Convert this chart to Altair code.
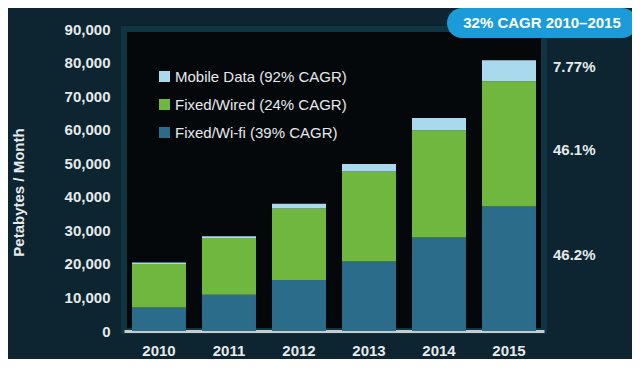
import altair as alt
import pandas as pd

years = ["2010", "2011", "2012", "2013", "2014", "2015"]
series = ["Mobile Data (92% CAGR)", "Fixed/Wired (24% CAGR)", "Fixed/Wi-fi (39% CAGR)"]
colors = ["#a9d9ec", "#70b73f", "#2a6c8a"]
wifi = [7000, 10800, 15200, 20700, 27900, 37100]
wired = [13000, 16900, 21300, 26850, 31900, 37300]
mobile = [400, 500, 1400, 2200, 3700, 6300]
y_ticks = [0, 10000, 20000, 30000, 40000, 50000, 60000, 70000, 80000, 90000]
share_labels = ["7.77%", "46.1%", "46.2%"]
share_y = [78800, 54000, 22700]
badge = ["32% CAGR 2010\u20132015"]

rows = []
for i, yr in enumerate(years):
    rows.append({"year": yr, "series": series[2], "value": wifi[i], "ord": 0})
    rows.append({"year": yr, "series": series[1], "value": wired[i], "ord": 1})
    rows.append({"year": yr, "series": series[0], "value": mobile[i], "ord": 2})
df = pd.DataFrame(rows)

FONT = "Liberation Sans"
TXT = "#e6eaec"
yscale = alt.Scale(domain=[0, 90000], nice=False)
yaxis = alt.Axis(title="Petabytes / Month", values=y_ticks, format=",.0f",
                 grid=False, ticks=False, domain=False, labelPadding=14,
                 labelFontSize=15, labelFontWeight="bold", labelColor=TXT,
                 labelFont=FONT, titleFont=FONT, titleFontSize=15,
                 titleFontWeight="bold", titleColor=TXT,
                 titleX=-106, titleY=163, titleAngle=-90,
                 titleAlign="center", titleBaseline="middle")

bars = alt.Chart(df).mark_bar().encode(
    x=alt.X("year:N", sort=years,
            scale=alt.Scale(paddingInner=0.2286, paddingOuter=0.1143),
            axis=alt.Axis(title=None, labelAngle=0, ticks=False, labelPadding=12,
                          labelFontSize=15, labelFontWeight="bold", labelColor=TXT,
                          labelFont=FONT, domainColor="#c8cacb", domainWidth=3)),
    y=alt.Y("value:Q", stack="zero", scale=yscale, axis=yaxis),
    color=alt.Color("series:N", scale=alt.Scale(domain=series, range=colors),
                    legend=alt.Legend(title=None, orient="none", legendX=33, legendY=40,
                                      symbolType="square", symbolSize=121,
                                      symbolStrokeWidth=0, labelFontSize=15,
                                      labelFont=FONT, labelColor=TXT, labelOffset=3,
                                      labelLimit=400, rowPadding=12, padding=0)),
    order=alt.Order("ord:Q"),
)

lab_df = pd.DataFrame({"label": share_labels, "y": share_y})
shares = alt.Chart(lab_df).mark_text(
    align="left", baseline="middle", font=FONT, fontSize=15, fontWeight="bold", color=TXT
).encode(x=alt.value(429), y=alt.Y("y:Q", scale=yscale, axis=yaxis, title="Petabytes / Month"),
         text="label:N")

badge_df = pd.DataFrame({"t": badge})
pill = alt.Chart(badge_df).mark_rect(cornerRadius=15, color="#1b9cd8").encode(
    x=alt.value(323), x2=alt.value(513), y=alt.value(-21), y2=alt.value(9))
pill_text = alt.Chart(badge_df).mark_text(
    align="center", baseline="middle", font=FONT, fontSize=15, fontWeight="bold", color="white"
).encode(x=alt.value(418), y=alt.value(-6), text="t:N")

chart = alt.layer(bars, shares, pill, pill_text).properties(
    width=420, height=302,
    autosize=alt.AutoSizeParams(type="none"),
    padding={"left": 116, "top": 21, "right": 88, "bottom": 28},
    background="#0c2530",
).configure_view(fill="#04080b", stroke="#0f3543", strokeWidth=6)

chart.save("out.html", embed_options={"renderer": "svg", "actions": False})
